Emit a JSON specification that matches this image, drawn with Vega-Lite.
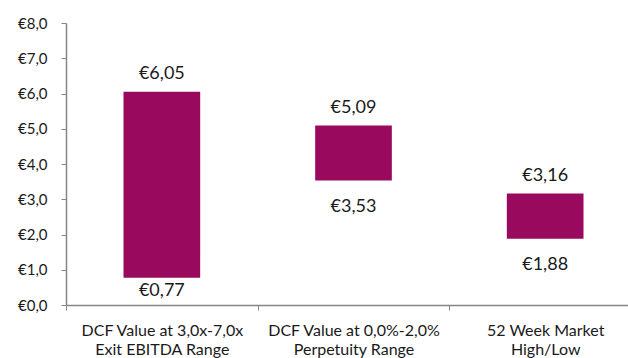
{
  "$schema": "https://vega.github.io/schema/vega-lite/v6.json",
  "width": 575,
  "height": 282,
  "autosize": {"type": "none"},
  "padding": {"left": 66, "top": 23, "right": 0, "bottom": 53},
  "background": "white",
  "config": {
    "view": {"stroke": null},
    "locale": {"number": {"decimal": ",", "thousands": ".", "grouping": [3], "currency": ["€", ""]}},
    "font": "Lato",
    "axisY": {
      "title": null,
      "values": [0, 1, 2, 3, 4, 5, 6, 7, 8],
      "format": "$.1f",
      "grid": false,
      "labelOverlap": false,
      "labelFont": "Lato",
      "labelFontSize": 15,
      "labelColor": "#1a1a1a",
      "labelPadding": 14,
      "tickSize": 5,
      "tickColor": "#868686",
      "domainColor": "#868686",
      "domainWidth": 1.5
    }
  },
  "data": {
    "values": [
      {"category": "DCF Value at 3,0x-7,0x|Exit EBITDA Range", "low": 0.77, "high": 6.05},
      {"category": "DCF Value at 0,0%-2,0%|Perpetuity Range", "low": 3.53, "high": 5.09},
      {"category": "52 Week Market|High/Low", "low": 1.88, "high": 3.16}
    ]
  },
  "encoding": {
    "x": {
      "field": "category",
      "type": "nominal",
      "sort": null,
      "scale": {"paddingInner": 0, "paddingOuter": 0},
      "axis": {
        "title": null,
        "labelAngle": 0,
        "labelExpr": "split(datum.label, '|')",
        "labelFont": "Lato",
        "labelFontSize": 16,
        "labelColor": "#1a1a1a",
        "labelLineHeight": 19,
        "labelPadding": 12,
        "labelBaseline": "top",
        "tickBand": "extent",
        "tickSize": 5,
        "tickColor": "#868686",
        "domainColor": "#868686",
        "domainWidth": 1.5,
        "labelLimit": 300
      }
    }
  },
  "layer": [
    {
      "mark": {"type": "bar", "color": "#990A5F", "width": {"band": 0.4}},
      "encoding": {
        "y": {
          "field": "low",
          "type": "quantitative",
          "scale": {"domain": [0, 8], "nice": false},
          "axis": {"title": null, "values": [0, 1, 2, 3, 4, 5, 6, 7, 8], "format": "$.1f", "labelOverlap": false}
        },
        "y2": {"field": "high"}
      }
    },
    {
      "mark": {"type": "text", "fontSize": 18, "font": "Lato", "color": "#1a1a1a", "baseline": "alphabetic", "dy": -13},
      "encoding": {
        "y": {"field": "high", "type": "quantitative", "axis": {"title": null, "values": [0, 1, 2, 3, 4, 5, 6, 7, 8], "format": "$.1f", "labelOverlap": false}},
        "text": {"field": "high", "type": "quantitative", "format": "$.2f"}
      }
    },
    {
      "mark": {"type": "text", "fontSize": 18, "font": "Lato", "color": "#1a1a1a", "baseline": "top", "dy": {"expr": "datum.low < 1 ? 4 : 17"}},
      "encoding": {
        "y": {"field": "low", "type": "quantitative", "axis": {"title": null, "values": [0, 1, 2, 3, 4, 5, 6, 7, 8], "format": "$.1f", "labelOverlap": false}},
        "text": {"field": "low", "type": "quantitative", "format": "$.2f"}
      }
    }
  ]
}
